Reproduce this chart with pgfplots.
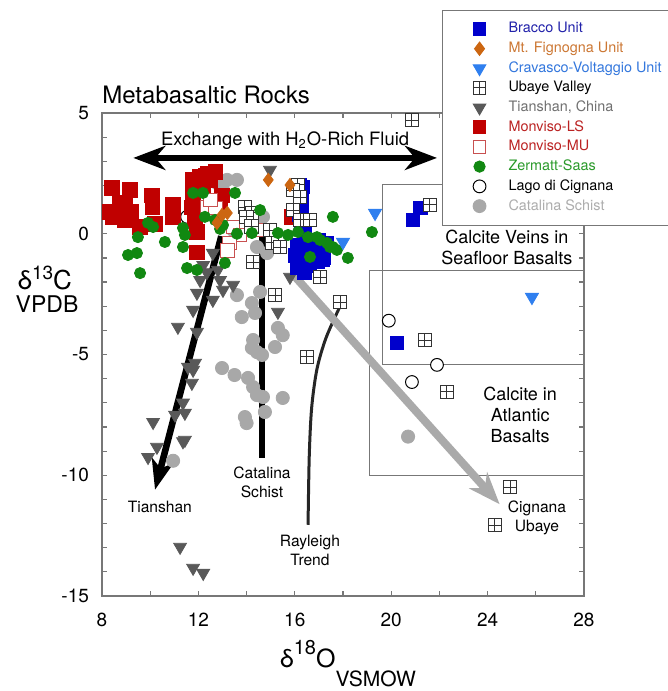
\documentclass[border=0pt]{standalone}
\usepackage{fontspec}
\setmainfont{TeX Gyre Heros}
\usepackage{xcolor}
\usepackage{pgfplots}
\pgfplotsset{compat=1.18}
\usetikzlibrary{arrows.meta}

\definecolor{bracco}{HTML}{0000CC}
\definecolor{braccot}{HTML}{2222AA}
\definecolor{fignogna}{HTML}{CC6611}
\definecolor{fignognat}{HTML}{CC7733}
\definecolor{cravasco}{HTML}{2F7FEF}
\definecolor{cravascot}{HTML}{3377DD}
\definecolor{ubaye}{HTML}{333333}
\definecolor{tianshan}{HTML}{595959}
\definecolor{tianshant}{HTML}{707070}
\definecolor{monviso}{HTML}{C00000}
\definecolor{monvisot}{HTML}{BB2222}
\definecolor{monvisomu}{HTML}{C85050}
\definecolor{zermatt}{HTML}{118811}
\definecolor{zermattt}{HTML}{2A9A2A}
\definecolor{catalina}{HTML}{A8A8A8}
\definecolor{catalinat}{HTML}{ADADAD}
\definecolor{axisgray}{HTML}{777777}
\definecolor{trendgray}{HTML}{AAAAAA}

% open square with a cross, for Ubaye Valley
\pgfdeclareplotmark{sqplus}{%
  \pgfpathrectangle{\pgfqpoint{-\pgfplotmarksize}{-\pgfplotmarksize}}{\pgfqpoint{2\pgfplotmarksize}{2\pgfplotmarksize}}%
  \pgfusepathqfillstroke
  \pgfpathmoveto{\pgfqpoint{-\pgfplotmarksize}{0pt}}\pgfpathlineto{\pgfqpoint{\pgfplotmarksize}{0pt}}%
  \pgfpathmoveto{\pgfqpoint{0pt}{-\pgfplotmarksize}}\pgfpathlineto{\pgfqpoint{0pt}{\pgfplotmarksize}}%
  \pgfusepathqstroke}

% wide legend image: one mark set in from the left
\pgfplotsset{leg/.style={legend image code/.code={%
  \path[draw=none,fill=none] (0pt,-1pt) rectangle (29pt,1pt);
  \draw plot coordinates {(16.5pt,0pt)};}}}

\begin{document}
\begin{tikzpicture}
\useasboundingbox (-51pt,-47.5pt) rectangle (283pt,298pt);
\begin{axis}[
    at={(0pt,0pt)}, anchor=south west,
    scale only axis, width=241pt, height=241.5pt,
    xmin=8, xmax=28, ymin=-15, ymax=5,
    xtick={8,12,...,28}, minor xtick={10,14,...,26},
    xticklabels={8,12,16,20,24,28},
    ytick={-15,-10,...,5}, minor ytick={-14,-13,...,4},
    yticklabels={-15,-10,-5,0,5},
    tick label style={font=\fontsize{9.5}{11}\selectfont},
    xticklabel style={yshift=-5pt},
    yticklabel style={xshift=-3pt},
    axis line style={axisgray, line width=0.7pt},
    tick style={axisgray, line width=0.6pt},
    major tick length=2.5pt, minor tick length=2.5pt,
    clip=false,
    legend cell align=left,
    legend style={at={(rel axis cs:0.7055,1.2133)}, anchor=north west,
      draw=axisgray, fill=white, line width=0.5pt,
      font=\fontsize{7.2}{8.3}\selectfont,
      inner xsep=2pt, inner ysep=4pt, row sep=-1pt},
]

% ---- data: d13C (VPDB) against d18O (VSMOW) ----
% Lago di Cignana (kept low in the stack)
\addplot[only marks, forget plot, mark=*, mark size=3.2pt,
  mark options={draw=black, fill=white, line width=0.5pt}] coordinates {
 (11.53,0.7) (19.9,-3.6) (21.9,-5.43) (20.86,-6.14)
};
% Catalina Schist
\addplot[only marks, forget plot, mark=*, mark size=3.3pt, color=catalina] coordinates {
 (12.77,2.1) (13.19,2.23) (13.6,2.23) (13.0,1.9) (13.44,0.15) (14.68,0.7)
 (14.43,-0.55) (14.85,-0.8) (13.6,-2.54) (14.22,-2.87) (13.8,-3.45) (14.56,-2.41)
 (14.35,-3.28) (15.3,-3.9) (15.5,-4.2) (14.27,-4.4) (14.22,-4.73) (14.43,-4.9)
 (15.18,-4.69) (14.64,-5.02) (12.98,-5.56) (13.5,-5.85) (14.06,-5.97) (14.27,-6.35)
 (14.43,-6.68) (14.68,-6.76) (15.5,-6.8) (14.76,-7.38) (13.93,-7.59) (14.0,-7.84)
 (10.95,-9.4) (20.7,-8.4)
};
% Tianshan, China
\addplot[only marks, forget plot, mark=triangle*, mark size=3.7pt, color=tianshan,
  mark options={rotate=180}] coordinates {
 (14.97,2.64) (12.07,-1.92) (12.35,-1.6) (12.81,-1.5) (12.9,-1.92) (13.02,-2.33)
 (13.44,-2.12) (12.6,-2.74) (11.94,-2.45) (11.78,-3.16) (11.15,-3.86) (11.94,-4.07)
 (15.3,-3.24) (15.8,-1.79) (11.86,-5.35) (11.57,-5.52) (11.78,-5.64) (11.73,-6.18)
 (11.36,-7.0) (11.03,-7.5) (11.44,-7.42) (10.12,-7.8) (11.44,-8.54) (10.28,-8.83)
 (9.91,-9.25) (11.36,-8.6) (11.24,-12.97) (11.78,-13.84) (12.2,-14.05) (12.6,-0.8)
 (12.2,-1.3)
};
% Monviso-LS
\addplot[only marks, forget plot, mark=square*, mark size=3.6pt, color=monviso] coordinates {
 (8.41,1.9) (9.16,1.81) (8.75,1.27) (8.95,1.2) (8.46,0.7) (8.95,0.57) (9.58,0.28)
 (10.07,1.6) (10.1,1.1) (10.95,1.19) (10.95,0.7) (11.78,2.23) (12.07,2.35) (12.4,2.5)
 (12.7,2.56) (11.78,1.69) (11.73,1.1) (11.86,0.57) (11.94,0.07) (11.94,-0.76)
 (12.98,1.6) (15.88,0.7) (12.2,2.0) (12.5,2.2) (11.9,1.9) (8.3,0.9) (9.2,0.9)
 (10.2,0.4) (12.9,1.3) (12.3,2.4)
};
% Monviso-MU
\addplot[only marks, forget plot, mark=square*, mark size=3.4pt,
  mark options={draw=monvisomu, fill=white, line width=0.5pt}] coordinates {
 (12.36,1.1) (12.7,1.07) (13.44,0.28) (13.73,-0.05) (13.3,-0.38) (14.4,0.15)
 (13.2,-0.7) (12.5,1.4)
};
% Bracco Unit
\addplot[only marks, forget plot, mark=square*, mark size=3.4pt, color=bracco] coordinates {
 (16.2,2.0) (16.34,1.94) (16.3,1.4) (16.2,0.8) (16.4,0.07) (16.1,-0.47) (16.2,-1.0)
 (16.1,-1.4) (16.6,-1.3) (16.8,-0.67) (17.0,-0.26) (17.2,-1.0) (17.3,-0.4)
 (16.63,-0.47) (16.4,-1.6) (16.96,-1.17) (17.17,-1.09) (20.9,0.57) (21.2,1.07)
 (20.24,-4.52) (16.3,1.0) (16.25,0.4) (16.0,-0.9)
};
% Ubaye Valley
\addplot[only marks, forget plot, mark=sqplus, mark size=3.3pt,
  mark options={draw=ubaye, fill=white, line width=0.5pt}] coordinates {
 (16.13,2.02) (15.93,1.8) (16.22,1.52) (15.93,0.98) (16.22,0.57) (16.63,0.57)
 (14.97,0.15) (15.05,-0.38) (14.27,-1.17) (13.93,1.1) (14.22,0.86) (14.0,0.7)
 (15.39,-0.55) (17.05,-1.8) (20.85,4.7) (21.6,1.2) (15.18,-2.54) (17.88,-2.83)
 (16.5,-5.1) (21.4,-4.4) (22.3,-6.55) (24.93,-10.5) (24.3,-12.06) (14.2,0.3)
};
% Zermatt-Saas
\addplot[only marks, forget plot, mark=*, mark size=2.8pt, color=zermatt] coordinates {
 (11.78,1.69) (12.19,1.69) (13.52,1.69) (9.91,0.45) (10.12,0.28) (9.49,-0.14)
 (10.61,-0.34) (11.36,0.24) (11.44,-0.05) (12.27,0.7) (12.69,0.57) (13.02,0.36)
 (11.36,-0.55) (9.08,-0.88) (9.45,-0.8) (9.58,-1.63) (11.53,-1.42) (11.94,-1.5)
 (13.1,-1.21) (14.22,0.03) (14.56,0.98) (15.3,0.03) (15.72,-0.05) (16.13,0.07)
 (16.55,-0.14) (16.92,-0.14) (17.34,-0.38) (17.58,-0.55) (17.58,0.7) (18.2,-1.0)
 (19.2,0.07) (17.05,-0.26) (17.46,-0.55) (17.75,-0.67) (16.63,-0.96) (12.9,0.2)
 (13.6,0.0)
};
% Mt. Fignogna Unit
\addplot[only marks, forget plot, mark=diamond*, mark size=3.3pt, color=fignogna] coordinates {
 (14.9,2.23) (13.2,0.86) (12.77,0.45) (15.8,2.02) (12.98,0.78)
};
% Cravasco-Voltaggio Unit
\addplot[only marks, forget plot, mark=triangle*, mark size=3.8pt, color=cravasco,
  mark options={rotate=180}] coordinates {
 (19.33,0.86) (18.0,-0.34) (25.84,-2.62)
};

% ---- field boxes ----
\addplot[forget plot, no markers, axisgray, line width=0.5pt] coordinates {
 (28,2.02) (19.65,2.02) (19.65,-5.4) (28,-5.4)};
\addplot[forget plot, no markers, axisgray, line width=0.5pt] coordinates {
 (28,-1.54) (19.12,-1.54) (19.12,-10.0) (28,-10.0)};

% ---- trends ----
\addplot[forget plot, no markers, black, line width=3pt,
  {Stealth[length=16pt,width=12pt,inset=5pt]}-{Stealth[length=16pt,width=12pt,inset=5pt]}] coordinates {
 (9.3,3.14) (21.9,3.14)};
\addplot[forget plot, no markers, black, line width=3.3pt,
  -{Stealth[length=15pt,width=11pt,inset=4pt]}] coordinates {
 (12.95,-0.1) (10.2,-10.6)};
\addplot[forget plot, no markers, black, line width=2.8pt] coordinates {
 (14.64,-0.05) (14.64,-9.3)};
\addplot[forget plot, no markers, black!85, line width=1.5pt, smooth] coordinates {
 (17.88,-3.0) (17.3,-4.3) (16.92,-5.6) (16.7,-7.2) (16.6,-9.2) (16.55,-12.05)};
\addplot[forget plot, no markers, trendgray, line width=4pt,
  -{Stealth[length=16pt,width=12pt,inset=5pt]}] coordinates {
 (15.85,-1.6) (24.5,-11.2)};

% ---- annotations ----
\node[anchor=base west, inner sep=0pt, font=\fontsize{12}{14}\selectfont] at (axis cs:8,5.41) {Metabasaltic Rocks};
\node[anchor=base, inner sep=0pt, font=\fontsize{9.2}{11}\selectfont] at (axis cs:15.6,3.67) {Exchange with H\textsubscript{2}O-Rich Fluid};
\node[align=center, font=\fontsize{9}{10.5}\selectfont] at (axis cs:24.8,-0.58) {Calcite Veins in\\Seafloor Basalts};
\node[align=center, font=\fontsize{9}{10.5}\selectfont] at (axis cs:25.35,-7.5) {Calcite in\\Atlantic\\Basalts};
\node[font=\fontsize{7.8}{9}\selectfont] at (axis cs:10.4,-11.3) {Tianshan};
\node[align=center, font=\fontsize{7.8}{9.5}\selectfont] at (axis cs:14.64,-10.3) {Catalina\\Schist};
\node[align=center, font=\fontsize{7.8}{9.5}\selectfont] at (axis cs:16.63,-13.1) {Rayleigh\\Trend};
\node[align=center, font=\fontsize{7.8}{9.5}\selectfont] at (axis cs:26.05,-11.75) {Cignana\\Ubaye};

% axis titles
\node[font=\fontsize{13}{15}\selectfont] at (axis cs:5.63,-1.85) {δ\raisebox{5pt}{\fontsize{9.5}{11}\selectfont 13}C};
\node[font=\fontsize{11.5}{13}\selectfont] at (axis cs:5.72,-2.9) {VPDB};
\node[anchor=base west, font=\fontsize{12.5}{14}\selectfont] at (axis cs:15.1,-17.98)
  {δ\raisebox{6.8pt}{\fontsize{10}{12}\selectfont 18}O\raisebox{-9.5pt}{\fontsize{10.5}{12}\selectfont VSMOW}};

% ---- legend ----
\addlegendimage{only marks, mark=square*, mark size=3.2pt, color=bracco, leg}
\addlegendentry{\textcolor{braccot}{Bracco Unit}}
\addlegendimage{only marks, mark=diamond*, mark size=3.3pt, color=fignogna, leg}
\addlegendentry{\textcolor{fignognat}{Mt. Fignogna Unit}}
\addlegendimage{only marks, mark=triangle*, mark size=3.6pt, color=cravasco, mark options={rotate=180}, leg}
\addlegendentry{\textcolor{cravascot}{Cravasco-Voltaggio Unit}}
\addlegendimage{only marks, mark=sqplus, mark size=3.2pt, mark options={draw=ubaye, fill=white, line width=0.5pt}, leg}
\addlegendentry{Ubaye Valley}
\addlegendimage{only marks, mark=triangle*, mark size=3.6pt, color=tianshan, mark options={rotate=180}, leg}
\addlegendentry{\textcolor{tianshant}{Tianshan, China}}
\addlegendimage{only marks, mark=square*, mark size=3.2pt, color=monviso, leg}
\addlegendentry{\textcolor{monvisot}{Monviso-LS}}
\addlegendimage{only marks, mark=square*, mark size=3.2pt, mark options={draw=monvisomu, fill=white, line width=0.5pt}, leg}
\addlegendentry{\textcolor{monvisot}{Monviso-MU}}
\addlegendimage{only marks, mark=*, mark size=2.8pt, color=zermatt, leg}
\addlegendentry{\textcolor{zermattt}{Zermatt-Saas}}
\addlegendimage{only marks, mark=*, mark size=3.2pt, mark options={draw=black, fill=white, line width=0.5pt}, leg}
\addlegendentry{Lago di Cignana}
\addlegendimage{only marks, mark=*, mark size=3.2pt, color=catalina, leg}
\addlegendentry{\textcolor{catalinat}{Catalina Schist}}
\end{axis}
\end{tikzpicture}
\end{document}
